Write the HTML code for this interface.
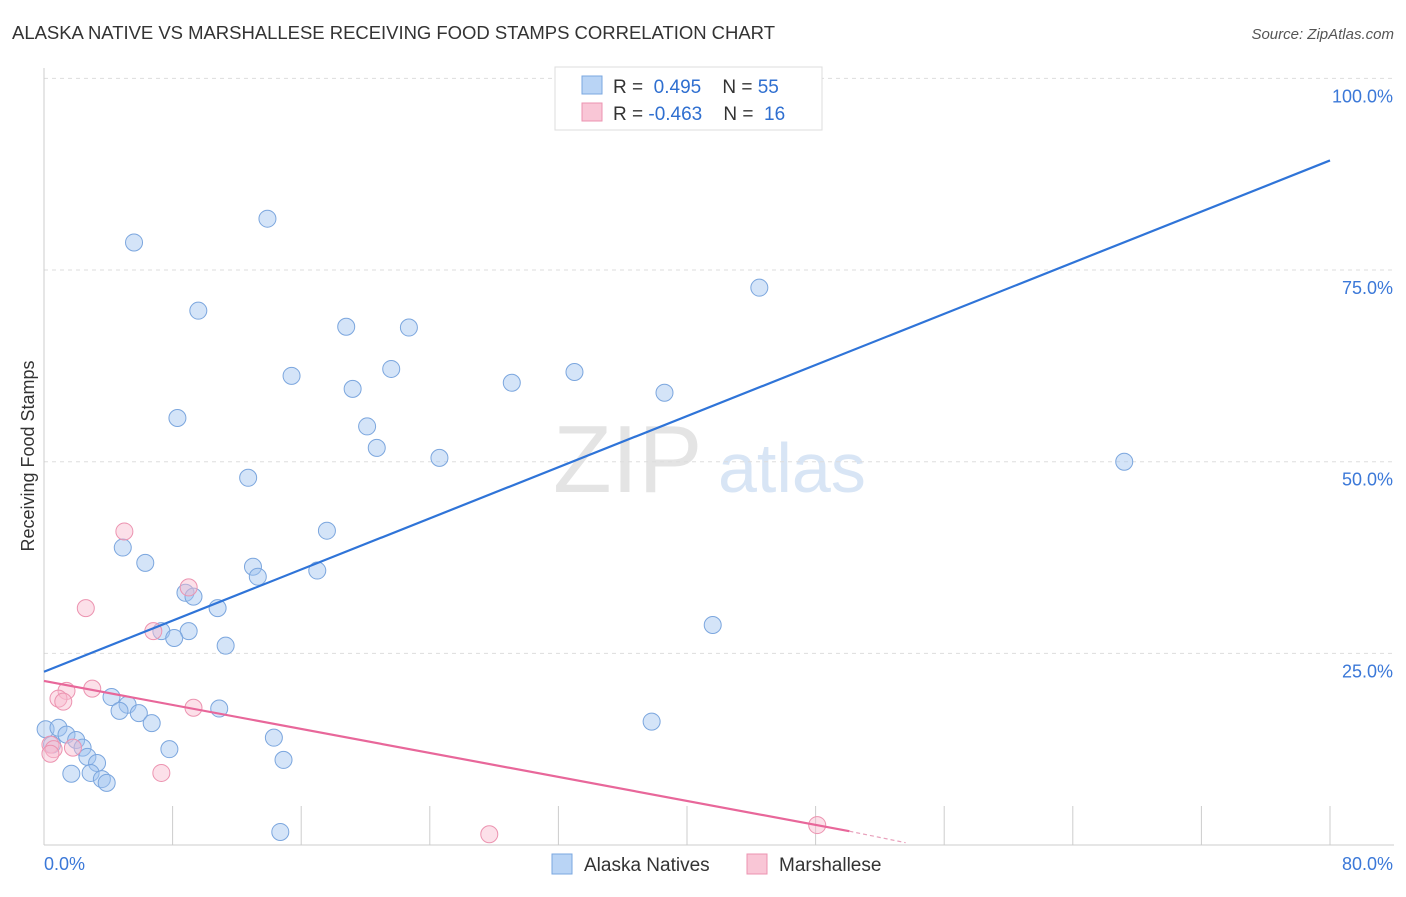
<!DOCTYPE html>
<html><head><meta charset="utf-8"><style>
body{margin:0;background:#fff;font-family:"Liberation Sans",sans-serif}
svg text{font-family:"Liberation Sans",sans-serif}
</style></head><body>
<svg id="c" width="1406" height="892">
<text x="12" y="39" font-size="18.5" fill="#333" textLength="763">ALASKA NATIVE VS MARSHALLESE RECEIVING FOOD STAMPS CORRELATION CHART</text>
<text x="1394" y="39" font-size="15" fill="#555" font-style="italic" text-anchor="end">Source: ZipAtlas.com</text>
<text x="34" y="456" font-size="18" fill="#333" text-anchor="middle" transform="rotate(-90 34 456)">Receiving Food Stamps</text>
<text x="553" y="492" font-size="96" fill="#e4e4e4" font-family="Liberation Serif">ZIP</text>
<text x="718" y="492" font-size="70" fill="#d8e5f5">atlas</text>
<g id="grid"></g><g id="marks"></g>
<g>
<rect x="555" y="67" width="267" height="63" fill="#fff" stroke="#ddd"/>
<rect x="582" y="76" width="20" height="18" fill="#b9d4f5" stroke="#7aa7e0"/>
<rect x="582" y="103" width="20" height="18" fill="#f9c6d6" stroke="#ec93b0"/>
<text x="613" y="93" font-size="19" fill="#333">R = <tspan fill="#2f6fd0">&#160;0.495</tspan>&#160;&#160;&#160;&#160;N = <tspan fill="#2f6fd0">55</tspan></text>
<text x="613" y="120" font-size="19" fill="#333">R = <tspan fill="#2f6fd0">-0.463</tspan>&#160;&#160;&#160;&#160;N = <tspan fill="#2f6fd0">&#160;16</tspan></text>
</g>
<g>
<rect x="552" y="854" width="20" height="20" fill="#b9d4f5" stroke="#7aa7e0"/>
<text x="584" y="871" font-size="19" fill="#333">Alaska Natives</text>
<rect x="747" y="854" width="20" height="20" fill="#f9c6d6" stroke="#ec93b0"/>
<text x="779" y="871" font-size="19" fill="#333">Marshallese</text>
</g>
</svg>
<script>
const blueX=[5.6,13.9,9.6,18.8,22.7,15.4,19.2,21.6,8.3,20.1,20.7,24.6,29.1,33.0,38.6,44.5,67.2,12.7,17.6,4.9,6.3,13.0,13.3,17.0,8.8,9.3,10.8,7.3,9.0,8.1,11.3,41.6,4.2,5.2,4.7,5.9,6.7,10.9,0.1,0.9,1.4,2.0,2.4,2.7,3.3,1.7,2.9,3.6,3.9,7.8,14.3,14.9,14.7,37.8,0.5];
const blueY=[78.6,81.7,69.7,67.6,67.5,61.2,59.5,62.1,55.7,54.6,51.8,50.5,60.3,61.7,59.0,72.7,50.0,47.9,41.0,38.8,36.8,36.3,35.0,35.8,32.9,32.4,30.9,27.9,27.9,27.0,26.0,28.7,19.3,18.3,17.5,17.2,15.9,17.8,15.1,15.3,14.4,13.7,12.7,11.5,10.7,9.3,9.4,8.6,8.1,12.5,14.0,11.1,1.7,16.1,13.1];
const pinkX=[5.0,2.6,9.0,6.8,1.4,0.9,1.2,3.0,9.3,0.4,0.6,0.4,1.8,7.3,27.7,48.1];
const pinkY=[40.9,30.9,33.6,27.9,20.1,19.1,18.7,20.4,17.9,13.1,12.5,11.9,12.7,9.4,1.4,2.6];
const blueTrend=[22.6,89.3];
const pinkTrend=[21.4,1.8,0.3];
const pinkTrendX=[50.1,53.6];
const yTicks=[25,50,75,100];
const xTickCount=10;
const X=v=>44+v*16.075, Y=v=>845-v*7.666;
const NS="http://www.w3.org/2000/svg";
function mk(t,a,p){const e=document.createElementNS(NS,t);for(const k in a)e.setAttribute(k,a[k]);p.appendChild(e);return e;}
const g=document.getElementById('grid'), m=document.getElementById('marks');
yTicks.forEach(t=>{const l=mk('line',{x1:44,x2:1394,y1:Y(t),y2:Y(t),stroke:'#ddd','stroke-dasharray':'4,4'},g);


const tx=mk('text',{x:1393,y:Y(t)+24,'font-size':18,fill:'#3b78d8','text-anchor':'end'},g);tx.textContent=t.toFixed(1)+'%';

});
mk('line',{x1:44,x2:44,y1:68,y2:845,stroke:'#ccc'},g);
mk('line',{x1:44,x2:1394,y1:845,y2:845,stroke:'#ccc'},g);
for(let i=1;i<=xTickCount;i++){const l=mk('line',{x1:X(i*8),x2:X(i*8),y1:806,y2:845,stroke:'#ccc'},g);

}
const x0=mk('text',{x:44,y:870,'font-size':18,fill:'#3b78d8'},g);x0.textContent='0.0%';


const x1=mk('text',{x:1393,y:870,'font-size':18,fill:'#3b78d8','text-anchor':'end'},g);x1.textContent='80.0%';


blueX.forEach((v,i)=>{const c=mk('circle',{cx:X(v),cy:Y(blueY[i]),r:8.5,fill:'rgba(160,196,240,0.45)',stroke:'#7ba6de','stroke-width':1},m);

});
pinkX.forEach((v,i)=>{const c=mk('circle',{cx:X(v),cy:Y(pinkY[i]),r:8.5,fill:'rgba(248,186,206,0.45)',stroke:'#ec93b0','stroke-width':1},m);

});
const bl=mk('line',{x1:X(0),y1:Y(blueTrend[0]),x2:X(80),y2:Y(blueTrend[1]),stroke:'#2f74d8','stroke-width':2.2},m);


const pl=mk('line',{x1:X(0),y1:Y(pinkTrend[0]),x2:X(pinkTrendX[0]),y2:Y(pinkTrend[1]),stroke:'#e8679a','stroke-width':2.2},m);


const pd=mk('line',{x1:X(pinkTrendX[0]),y1:Y(pinkTrend[1]),x2:X(pinkTrendX[1]),y2:Y(pinkTrend[2]),stroke:'#e8a0bb','stroke-width':1.2,'stroke-dasharray':'4,3'},m);


</script>
</body></html>
